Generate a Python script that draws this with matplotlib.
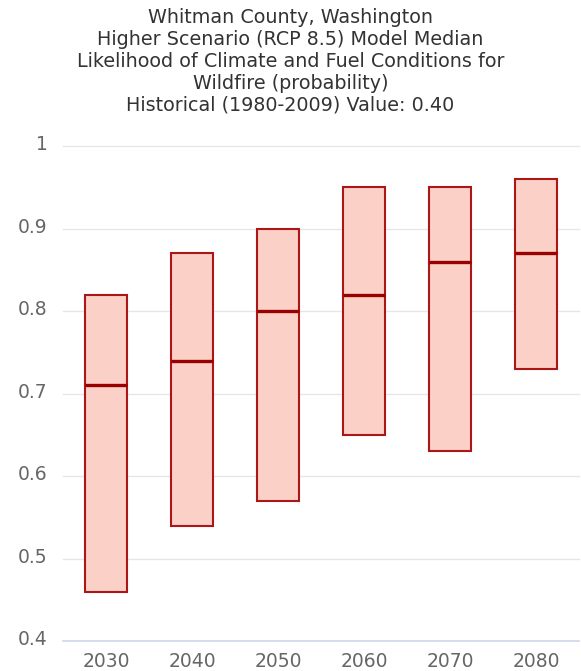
# Wildfire likelihood ranges by decade, Whitman County (RCP 8.5)

import matplotlib
matplotlib.use("Agg")
import matplotlib.pyplot as plt
from matplotlib.transforms import ScaledTranslation

# Decades and model range (low / median / high)
decades = ["2030", "2040", "2050", "2060", "2070", "2080"]
low = [0.46, 0.54, 0.57, 0.65, 0.63, 0.73]
median = [0.71, 0.74, 0.80, 0.82, 0.86, 0.87]
high = [0.82, 0.87, 0.90, 0.95, 0.95, 0.96]

yticks = [0.4, 0.5, 0.6, 0.7, 0.8, 0.9, 1.0]
ytick_labels = ["0.4", "0.5", "0.6", "0.7", "0.8", "0.9", "1"]

title = ("Whitman County, Washington\n"
         "Higher Scenario (RCP 8.5) Model Median\n"
         "Likelihood of Climate and Fuel Conditions for\n"
         "Wildfire (probability)\n"
         "Historical (1980-2009) Value: 0.40")

fill_color = "#fbd1c7"
edge_color = "#ad1616"
median_color = "#990000"

fig = plt.figure(figsize=(5.81, 6.71), dpi=100)
ax = fig.add_axes([63 / 581, 30 / 671, 516 / 581, 495 / 671])

x = list(range(len(decades)))
heights = [h - l for h, l in zip(high, low)]
box_w = 0.49

ax.bar(x, heights, bottom=low, width=box_w, color=fill_color,
       edgecolor=edge_color, linewidth=1.5, zorder=3)
ax.hlines(median, [i - box_w / 2 for i in x], [i + box_w / 2 for i in x],
          color=median_color, linewidth=2.4, zorder=4)

ax.set_xlim(-0.5, len(decades) - 0.5)
ax.set_ylim(0.4, 1.0)

# horizontal grid, bottom axis line drawn separately
for y in yticks[1:]:
    ax.axhline(y, color="#e6e6e6", linewidth=1, zorder=1, clip_on=False)
ax.axhline(0.4, color="#ccd6eb", linewidth=1.2, zorder=2, clip_on=False)

for s in ax.spines.values():
    s.set_visible(False)

ax.set_xticks(x)
ax.set_xticklabels(decades)
ax.set_yticks(yticks)
ax.set_yticklabels(ytick_labels)
ax.tick_params(axis="both", length=0, labelsize=13.5, colors="#666666")
ax.tick_params(axis="y", pad=11)
ax.tick_params(axis="x", pad=8)

# y labels sit a little above their grid line
for lab in ax.get_yticklabels():
    lab.set_transform(lab.get_transform() + ScaledTranslation(0, 2.5 / 72, fig.dpi_scale_trans))

fig.text(0.5, 1 - 8 / 671, title, ha="center", va="top", fontsize=13.8,
         color="#333333", linespacing=1.19)

fig.savefig("out.png", dpi=100)
